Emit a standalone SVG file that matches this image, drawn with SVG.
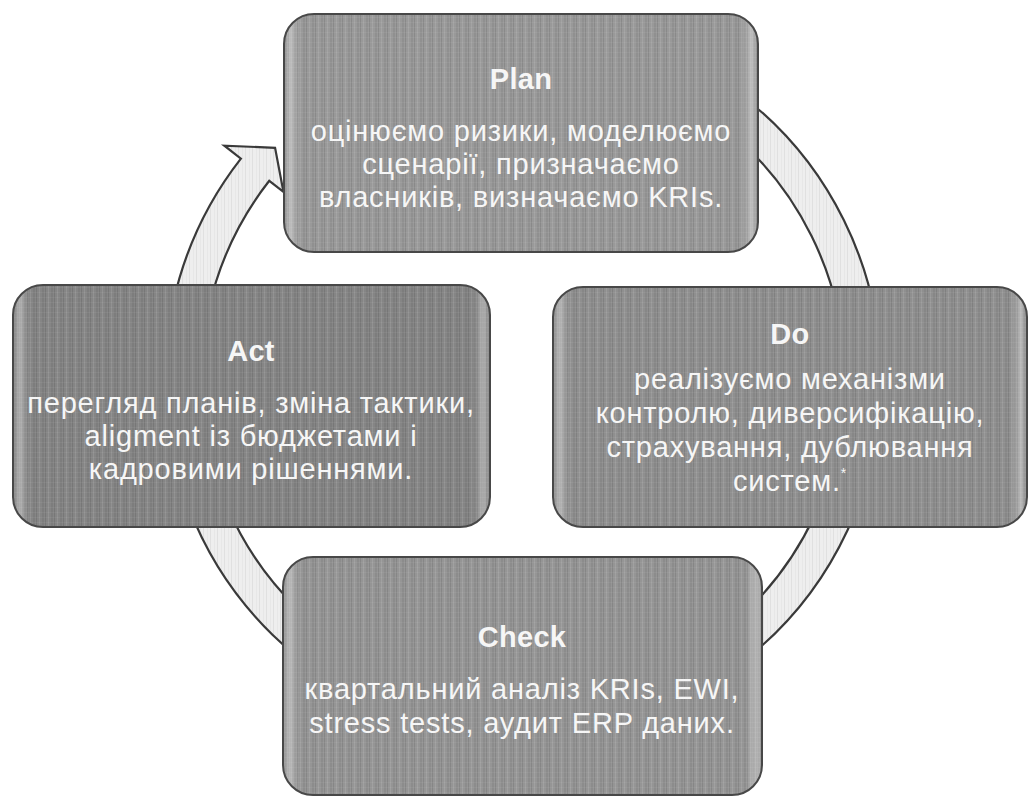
<svg xmlns="http://www.w3.org/2000/svg" width="1030" height="798" viewBox="0 0 1030 798">
  <style>
    .ring { fill: #eeeeee; stroke: #3a3a3a; stroke-width: 2.2; stroke-linejoin: miter; }
    .ring-grain { fill: url(#grainLight); stroke: none; }
    .box-fill { stroke: none; }
    .box-grain { fill: url(#grain); stroke: none; }
    .box-gloss { fill: url(#gloss); stroke: none; }
    .box-edge { fill: none; stroke: #484848; stroke-width: 2; }
    .label { font-family: "Liberation Sans", Arial, sans-serif; font-size: 29px; fill: #f6f6f6; text-anchor: middle; letter-spacing: 0.8px; }
    .title { font-weight: bold; letter-spacing: 0.3px; }
  </style>
  <defs>
    <!-- fine vertical streaks for the shaded blocks -->
    <pattern id="grain" width="9" height="5" patternUnits="userSpaceOnUse">
      <rect x="0" y="0" width="1" height="5" fill="#000" fill-opacity="0.10"/>
      <rect x="3" y="0" width="1" height="5" fill="#fff" fill-opacity="0.10"/>
      <rect x="6" y="0" width="2" height="5" fill="#000" fill-opacity="0.06"/>
      <rect x="0" y="2" width="9" height="1" fill="#fff" fill-opacity="0.05"/>
    </pattern>
    <pattern id="grainLight" width="7" height="4" patternUnits="userSpaceOnUse">
      <rect x="0" y="0" width="1" height="4" fill="#000" fill-opacity="0.06"/>
      <rect x="4" y="0" width="1" height="4" fill="#000" fill-opacity="0.03"/>
    </pattern>
    <!-- light bands just inside the left and right edges -->
    <linearGradient id="gloss" x1="0" y1="0" x2="1" y2="0">
      <stop offset="0" stop-color="#fff" stop-opacity="0"/>
      <stop offset="0.012" stop-color="#fff" stop-opacity="0.35"/>
      <stop offset="0.035" stop-color="#fff" stop-opacity="0"/>
      <stop offset="0.965" stop-color="#fff" stop-opacity="0"/>
      <stop offset="0.988" stop-color="#fff" stop-opacity="0.35"/>
      <stop offset="1" stop-color="#fff" stop-opacity="0"/>
    </linearGradient>
  </defs>

  <rect width="1030" height="798" fill="#ffffff"/>

  <!-- circular cycle arrow behind the blocks (centre 523,379; radii 322/358) -->
  <g id="connectors">
    <path class="ring" d="M 400.56 42.59 A 358 358 0 1 1 240.89 158.59 L 224.34 145.66 L 275.07 147.80 L 283.44 191.84 L 269.26 180.76 A 322 322 0 1 0 412.87 76.42 Z"/>
    <path class="ring-grain" d="M 400.56 42.59 A 358 358 0 1 1 240.89 158.59 L 224.34 145.66 L 275.07 147.80 L 283.44 191.84 L 269.26 180.76 A 322 322 0 1 0 412.87 76.42 Z"/>
  </g>

  <g id="plan">
    <rect class="box-fill" x="284" y="14" width="474" height="238" rx="30" fill="#999999"/>
    <rect class="box-grain" x="284" y="14" width="474" height="238" rx="30"/>
    <rect class="box-gloss" x="284" y="14" width="474" height="238" rx="30"/>
    <rect class="box-edge" x="284" y="14" width="474" height="238" rx="30"/>
    <text class="label title" x="521" y="89">Plan</text>
    <text class="label" x="521" y="141">оцінюємо ризики, моделюємо</text>
    <text class="label" x="521" y="174">сценарії, призначаємо</text>
    <text class="label" x="521" y="207">власників, визначаємо KRIs.</text>
  </g>

  <g id="do">
    <rect class="box-fill" x="553" y="287" width="474" height="240" rx="30" fill="#8f8f8f"/>
    <rect class="box-grain" x="553" y="287" width="474" height="240" rx="30"/>
    <rect class="box-gloss" x="553" y="287" width="474" height="240" rx="30"/>
    <rect class="box-edge" x="553" y="287" width="474" height="240" rx="30"/>
    <text class="label title" x="790" y="344">Do</text>
    <text class="label" x="790" y="389">реалізуємо механізми</text>
    <text class="label" x="790" y="423">контролю, диверсифікацію,</text>
    <text class="label" x="790" y="457">страхування, дублювання</text>
    <text class="label" x="790" y="491">систем.<tspan font-size="14" dy="-13">*</tspan></text>
  </g>

  <g id="check">
    <rect class="box-fill" x="283" y="557" width="479" height="238" rx="30" fill="#959595"/>
    <rect class="box-grain" x="283" y="557" width="479" height="238" rx="30"/>
    <rect class="box-gloss" x="283" y="557" width="479" height="238" rx="30"/>
    <rect class="box-edge" x="283" y="557" width="479" height="238" rx="30"/>
    <text class="label title" x="522" y="647">Check</text>
    <text class="label" x="522" y="699">квартальний аналіз KRIs, EWI,</text>
    <text class="label" x="522" y="733">stress tests, аудит ERP даних.</text>
  </g>

  <g id="act">
    <rect class="box-fill" x="13" y="285" width="477" height="242" rx="30" fill="#858585"/>
    <rect class="box-grain" x="13" y="285" width="477" height="242" rx="30"/>
    <rect class="box-gloss" x="13" y="285" width="477" height="242" rx="30"/>
    <rect class="box-edge" x="13" y="285" width="477" height="242" rx="30"/>
    <text class="label title" x="251" y="361">Act</text>
    <text class="label" x="251" y="413">перегляд планів, зміна тактики,</text>
    <text class="label" x="251" y="446">aligment із бюджетами і</text>
    <text class="label" x="251" y="479">кадровими рішеннями.</text>
  </g>
</svg>
